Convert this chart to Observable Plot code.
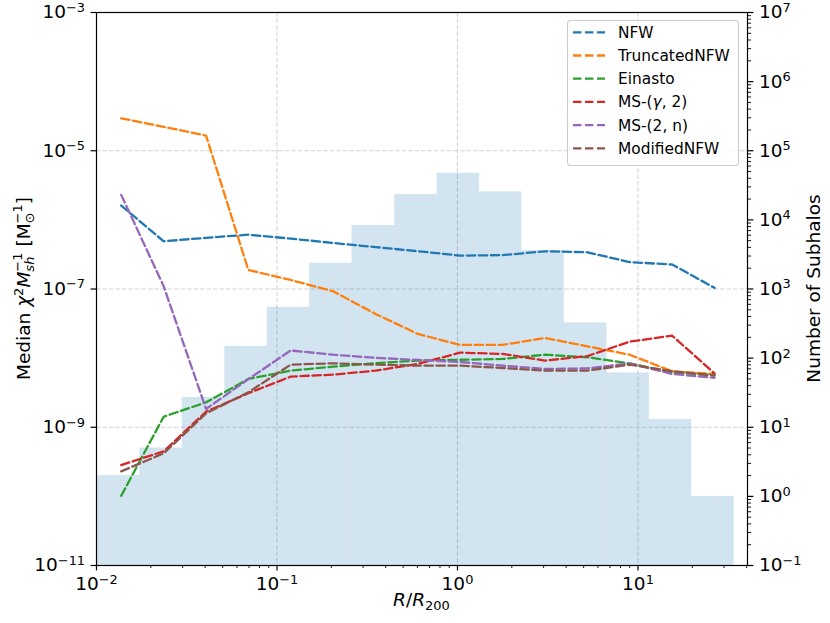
<!DOCTYPE html>
<html>
<head>
<meta charset="utf-8">
<script src="https://cdn.jsdelivr.net/npm/d3@7"></script>
<script src="https://cdn.jsdelivr.net/npm/@observablehq/plot@0.6"></script>
<style>
  html,body{margin:0;padding:0;background:#fff;}
  #chart{width:830px;height:623px;}
</style>
</head>
<body>
<div id="chart"></div>
<script>
// ---------------- data ----------------
const binEdges = [0.01012, 0.01738, 0.02985, 0.0514, 0.08831, 0.1517, 0.2606, 0.4487,
                  0.7709, 1.324, 2.275, 3.908, 6.73, 11.56, 19.86, 34.12];
const subhaloCounts = [2, 5, 27, 148, 543, 2355, 8280, 23200, 47200, 25400, 3600, 323, 61, 13, 1];

const radii = [0.01371, 0.02355, 0.04046, 0.06934, 0.1191, 0.2046, 0.3516, 0.6026,
               1.035, 1.778, 3.055, 5.248, 8.995, 15.45, 26.55];

const nfw          = [1.61e-6, 4.9e-7, 5.5e-7, 6.1e-7, 5.36e-7, 4.63e-7, 4.04e-7, 3.52e-7,
                      3.04e-7, 3.09e-7, 3.51e-7, 3.40e-7, 2.45e-7, 2.26e-7, 1.04e-7];
const truncatedNfw = [2.95e-5, 2.22e-5, 1.66e-5, 1.89e-7, 1.35e-7, 9.27e-8, 4.36e-8, 2.24e-8,
                      1.55e-8, 1.55e-8, 1.96e-8, 1.48e-8, 1.12e-8, 6.45e-9, 5.9e-9];
const einasto      = [1.02e-10, 1.42e-9, 2.29e-9, 4.99e-9, 6.59e-9, 7.53e-9, 8.42e-9, 9.21e-9,
                      9.47e-9, 9.73e-9, 1.12e-8, 1.03e-8, 8.4e-9, 6.2e-9, 5.7e-9];
const msGamma2     = [2.84e-10, 4.48e-10, 1.68e-9, 3.10e-9, 5.40e-9, 5.77e-9, 6.59e-9, 8.24e-9,
                      1.2e-8, 1.15e-8, 9.2e-9, 1.07e-8, 1.73e-8, 2.12e-8, 6.0e-9];
const ms2n         = [2.30e-6, 1.1e-7, 1.84e-9, 4.96e-9, 1.29e-8, 1.12e-8, 1.01e-8, 9.41e-9,
                      8.8e-9, 7.8e-9, 6.96e-9, 7.1e-9, 8.4e-9, 5.9e-9, 5.2e-9];
const modifiedNfw  = [2.30e-10, 4.19e-10, 1.59e-9, 3.20e-9, 8.05e-9, 8.41e-9, 8.05e-9, 7.78e-9,
                      7.78e-9, 7.2e-9, 6.6e-9, 6.6e-9, 8.05e-9, 6.45e-9, 5.6e-9];

const seriesNames  = ["NFW", "TruncatedNFW", "Einasto", "MS-(γ, 2)", "MS-(2, n)", "ModifiedNFW"];
const seriesColors = ["#1f77b4", "#ff7f0e", "#2ca02c", "#d62728", "#9467bd", "#8c564b"];
const seriesValues = [nfw, truncatedNfw, einasto, msGamma2, ms2n, modifiedNfw];

const xDomain = [0.01, 40.44];
const yDomain = [1e-11, 1e-3];
const countToLeft = 1e-10;   // right axis (counts) 1e-1..1e7  <->  left axis 1e-11..1e-3

const xMajorTicks = [0.01, 0.1, 1, 10];
const xMinorTicks = [0.02,0.03,0.04,0.05,0.06,0.07,0.08,0.09,
                     0.2,0.3,0.4,0.5,0.6,0.7,0.8,0.9,
                     2,3,4,5,6,7,8,9,20,30,40];
const leftTicks  = [1e-11, 1e-9, 1e-7, 1e-5, 1e-3];
const countTicks = [0.1, 1, 10, 100, 1e3, 1e4, 1e5, 1e6, 1e7];
const countMinorTicks = [];
for (const dec of [0.1, 1, 10, 100, 1e3, 1e4, 1e5, 1e6]) for (const m of [2,3,4,5,6,7,8,9]) countMinorTicks.push(m*dec);

// ---------------- helpers ----------------
const pow10Label = v => {
  const e = Math.round(Math.log10(v));
  return "10^" + (e < 0 ? "\u2212" + (-e) : String(e));
};
const bars = subhaloCounts.map((c, i) => ({x1: binEdges[i], x2: binEdges[i+1], y1: yDomain[0], y2: c * countToLeft}));

const gridStyle = {stroke: "#b0b0b0", strokeOpacity: 0.55, strokeWidth: 1.1, strokeDasharray: "4.5,2"};
const dash = "8.4,3.6";
const LW = 2.3;

const chart = Plot.plot({
  width: 830,
  height: 623,
  marginLeft: 96,
  marginRight: 83,
  marginTop: 12,
  marginBottom: 58,
  style: {fontFamily: "DejaVu Sans", fontSize: "18.5px", background: "white", color: "black", overflow: "visible"},
  x: {type: "log", domain: xDomain, label: null},
  y: {type: "log", domain: yDomain, label: null},
  marks: [
    Plot.ruleX(xMajorTicks.slice(1), {x: d => d, ...gridStyle}),
    Plot.ruleY(leftTicks.slice(1, -1), {y: d => d, ...gridStyle}),
    Plot.rect(bars, {x1: "x1", x2: "x2", y1: "y1", y2: "y2", fill: "#1f77b4", fillOpacity: 0.2}),
    ...seriesValues.map((vals, k) =>
      Plot.line(radii, {x: d => d, y: (d, i) => vals[i], stroke: seriesColors[k], strokeWidth: LW, strokeDasharray: dash})
    ),
    Plot.axisX({ticks: xMajorTicks, tickFormat: pow10Label, tickSize: 5.4, tickPadding: 6, strokeWidth: 1.2, label: null}),
    Plot.axisX({ticks: xMinorTicks, tickFormat: () => "", tickSize: 3.1, strokeWidth: 0.9, label: null}),
    Plot.axisY({ticks: leftTicks, anchor: "left", tickFormat: pow10Label, tickSize: 5.4, tickPadding: 6, strokeWidth: 1.2, label: null}),
    Plot.axisY({ticks: countTicks.map(c => c * countToLeft), anchor: "right",
                tickFormat: v => pow10Label(v / countToLeft), tickSize: 5.4, tickPadding: 6, strokeWidth: 1.2, label: null}),
    Plot.axisY({ticks: countMinorTicks.map(c => c * countToLeft), anchor: "right",
                tickFormat: () => "", tickSize: 3.1, strokeWidth: 0.9, label: null}),
    Plot.frame({stroke: "black", strokeWidth: 1.2})
  ]
});

document.getElementById("chart").appendChild(chart);
const svg = d3.select(chart);

// superscript exponents in tick labels
svg.selectAll("text").each(function () {
  const m = /^10\^(.+)$/.exec(this.textContent);
  if (!m) return;
  const t = d3.select(this);
  t.text("10");
  t.append("tspan").attr("font-size", "70%").attr("dy", "-0.5em").text(m[1]);
});

const MAIN = 18.5, SCRIPT = 13;

// x label: R/R_200
const xl = svg.append("text").attr("x", 421.5).attr("y", 606).attr("text-anchor", "middle")
  .attr("font-size", MAIN).attr("font-family", "DejaVu Sans").attr("fill", "black");
xl.append("tspan").attr("font-style", "italic").text("R");
xl.append("tspan").text("/");
xl.append("tspan").attr("font-style", "italic").text("R");
xl.append("tspan").attr("font-size", SCRIPT).attr("dy", 4).text("200");

// left label: Median χ²M_sh^-1 [M_⊙^-1]
const yl = svg.append("text").attr("transform", "translate(30,288.5) rotate(-90)").attr("text-anchor", "middle")
  .attr("font-size", MAIN).attr("font-family", "DejaVu Sans").attr("fill", "black");
yl.append("tspan").text("Median ");
yl.append("tspan").attr("font-style", "italic").text("χ");
yl.append("tspan").attr("font-size", SCRIPT).attr("dy", -7.5).text("2");
yl.append("tspan").attr("font-style", "italic").attr("dy", 7.5).text("M");
const sh = yl.append("tspan").attr("font-style", "italic").attr("font-size", SCRIPT).attr("dy", 4).text("sh");
const shW = sh.node().getComputedTextLength();
const s1 = yl.append("tspan").attr("font-size", SCRIPT).attr("dy", -12).attr("dx", -shW).text("\u22121");
const s1W = s1.node().getComputedTextLength();
yl.append("tspan").attr("dy", 8).attr("dx", Math.max(0, shW - s1W)).text("\u00a0[M");
const sun = yl.append("tspan").attr("font-size", SCRIPT).attr("dy", 4).text("⊙");
const sunW = sun.node().getComputedTextLength();
const s2 = yl.append("tspan").attr("font-size", SCRIPT).attr("dy", -12).attr("dx", -sunW).text("\u22121");
const s2W = s2.node().getComputedTextLength();
yl.append("tspan").attr("dy", 8).attr("dx", Math.max(0, sunW - s2W)).text("]");

// right label
svg.append("text").attr("transform", "translate(820,288.5) rotate(-90)").attr("text-anchor", "middle")
  .attr("font-size", MAIN).attr("font-family", "DejaVu Sans").attr("fill", "black").text("Number of Subhalos");

// legend
const lg = svg.append("g").attr("font-family", "DejaVu Sans").attr("font-size", 15.4).attr("text-anchor", "start");
lg.append("rect").attr("x", 567.5).attr("y", 20.5).attr("width", 171).attr("height", 145).attr("rx", 3.5)
  .attr("fill", "white").attr("fill-opacity", 0.8).attr("stroke", "#cccccc").attr("stroke-width", 1.1);
seriesNames.forEach((name, i) => {
  const y = 32.3 + i * 23.2;
  lg.append("line").attr("x1", 573).attr("x2", 605).attr("y1", y).attr("y2", y)
    .attr("stroke", seriesColors[i]).attr("stroke-width", LW).attr("stroke-dasharray", dash);
  const t = lg.append("text").attr("x", 618).attr("y", y).attr("dy", "0.36em")
    .attr("text-anchor", "start").attr("fill", "black");
  const m = /^(.*)γ(.*)$/.exec(name);
  if (m) {
    t.append("tspan").text(m[1]);
    t.append("tspan").attr("font-style", "italic").text("γ");
    t.append("tspan").text(m[2]);
  } else t.text(name);
});
</script>
</body>
</html>
